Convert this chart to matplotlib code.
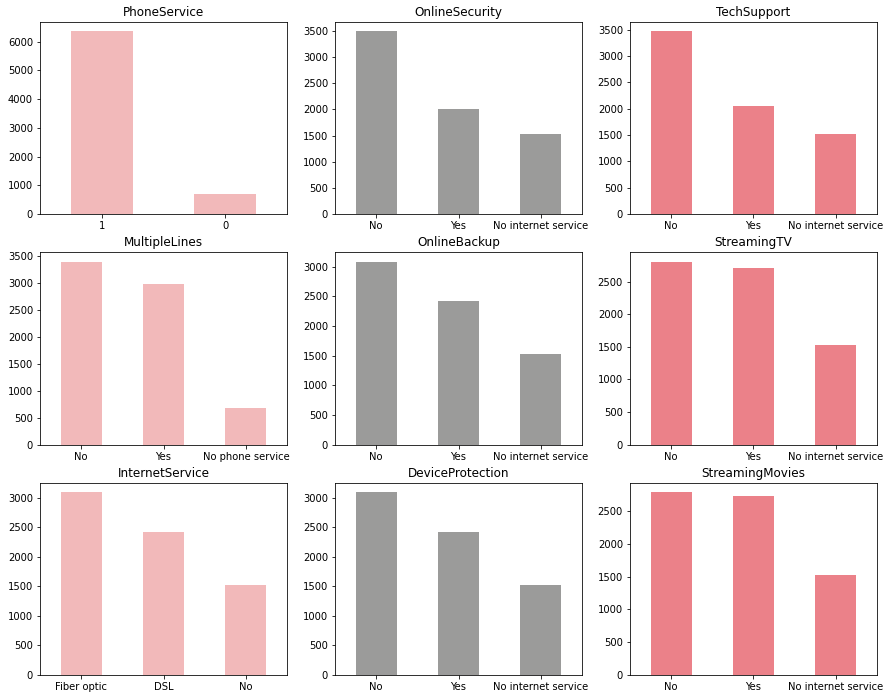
import matplotlib
matplotlib.use("Agg")
import matplotlib.pyplot as plt

titles = ["PhoneService", "OnlineSecurity", "TechSupport",
          "MultipleLines", "OnlineBackup", "StreamingTV",
          "InternetService", "DeviceProtection", "StreamingMovies"]

cats_phone = ["1", "0"]
vals_phone = [6361, 682]
cats_inet = ["No", "Yes", "No internet service"]
vals_onlinesec = [3498, 2019, 1526]
vals_techsup = [3473, 2044, 1526]
cats_multi = ["No", "Yes", "No phone service"]
vals_multi = [3390, 2971, 682]
vals_onlinebackup = [3088, 2429, 1526]
vals_streamtv = [2810, 2707, 1526]
cats_internet = ["Fiber optic", "DSL", "No"]
vals_internet = [3096, 2421, 1526]
vals_devprot = [3095, 2422, 1526]
vals_streammov = [2785, 2732, 1526]

data = [
    (cats_phone, vals_phone), (cats_inet, vals_onlinesec), (cats_inet, vals_techsup),
    (cats_multi, vals_multi), (cats_inet, vals_onlinebackup), (cats_inet, vals_streamtv),
    (cats_internet, vals_internet), (cats_inet, vals_devprot), (cats_inet, vals_streammov),
]
col_colors = ["#f2b9ba", "#9b9b9a", "#eb8189"]

fig, axes = plt.subplots(3, 3, figsize=(890/72, 699/72), dpi=72)
fig.subplots_adjust(left=0.045, right=0.9854, top=0.9685, bottom=0.0343,
                    wspace=0.194, hspace=0.2)
for i, ax in enumerate(axes.flat):
    cats, vals = data[i]
    x = list(range(len(cats)))
    ax.bar(x, vals, width=0.5, color=col_colors[i % 3])
    ax.set_xticks(x)
    ax.set_xticklabels(cats)
    ax.set_xlim(-0.5, len(cats) - 0.5)
    ax.set_title(titles[i], fontsize=12)

fig.savefig("out.png", dpi=72)
